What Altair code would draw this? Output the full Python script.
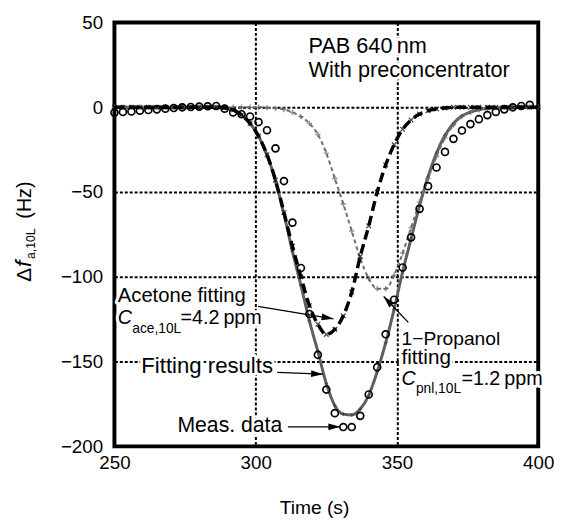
import math
import altair as alt
import pandas as pd

# ---------------- data ----------------
t_meas = [250, 253, 256, 259, 262, 265, 268, 271, 274, 277, 280, 283, 286,
          289, 292, 295, 298, 301, 304, 307, 310, 313, 316, 319, 322, 325,
          328, 331, 334, 337, 340, 343, 346, 349, 352, 355, 358, 361, 364,
          367, 370, 373, 376, 379, 382, 385, 388, 391, 394, 397]
meas = [-3.1, -2.7, -2.4, -2.0, -1.6, -1.2, -0.8, -0.4, 0.0, 0.2, 0.4, 0.6, 0.8,
        -0.8, -3.0, -4.1, -5.4, -8.7, -13.5, -24.2, -43.5, -68.0, -94.8, -121.9,
        -146.0, -166.5, -180.4, -188.6, -188.6, -182.0, -169.4, -153.3, -133.9,
        -113.5, -94.5, -76.7, -59.9, -46.5, -35.5, -26.3, -18.6, -13.7, -9.9,
        -7.0, -4.6, -2.7, -1.2, 0.0, 0.8, 1.5]

t_fit = [250, 253, 256, 259, 262, 265, 268, 271, 274, 277, 280, 283, 286,
         289, 292, 295, 298, 301, 304, 307, 310, 313, 316, 319, 322, 325,
         328, 331, 334, 337, 340, 343, 346, 349, 352, 355, 358, 361, 364,
         367, 370, 373, 376, 379, 382, 385, 388, 391, 394, 397, 400]
fit_total = [0, 0, 0, 0, 0, 0, 0, 0, 0, 0, 0, 0, 0,
             -0.3, -1.5, -4.5, -9.5, -17, -28, -43.5, -63, -85, -105, -126,
             -144, -163, -176, -181, -181.5, -178, -170, -156, -139, -119, -97,
             -77.5, -58, -41, -27, -16.5, -9.5, -5, -2.8, -1.4, -0.7, -0.3,
             0, 0, 0, 0, 0]
fit_acetone = [0, 0, 0, 0, 0, 0, 0, 0, 0, 0, 0, 0, 0,
               -0.3, -1.5, -4.5, -9.5, -17, -28, -43, -62, -82, -100, -117,
               -128, -134, -131, -123, -109, -88, -70, -50, -34, -22, -13,
               -7.5, -4, -2, -1, -0.4, 0, 0, 0, 0, 0, 0, 0, 0, 0, 0, 0]
fit_propanol = [0, 0, 0, 0, 0, 0, 0, 0, 0, 0, 0, 0, 0, 0, 0, 0, 0, 0,
                -0.2, -0.6, -1.3, -3, -5.5, -9.5, -16, -27, -42, -57, -73,
                -89, -101, -107, -107, -99, -86, -71, -56, -42, -29, -18,
                -10.5, -5.5, -3, -1.5, -0.7, -0.3, 0, 0, 0, 0, 0]

x_ticks = [250, 300, 350, 400]
y_ticks = [-200, -150, -100, -50, 0, 50]

# annotation texts (data coordinates)
txt_labels = ["PAB 640\u2009nm", "With preconcentrator", "Acetone fitting",
              "=4.2\u2009ppm", "Fitting results", "Meas. data",
              "1\u2212Propanol", "fitting", "=1.2\u2009ppm"]
txt_t = [318.7, 318.7, 251.2, 273.4, 259.5, 272.3, 351.6, 351.6, 372.8]
txt_v = [31.8, 17.9, -115.1, -128.1, -156.7, -191.5, -140.3, -151.3, -164.0]
txt_fs = [22, 22, 20.5, 20, 22.5, 21.5, 19.5, 21, 20]

ital_labels = ["C", "C"]
ital_t = [251.2, 351.6]
ital_v = [-128.1, -164.0]

sub_labels = ["ace,10L", "pnl,10L"]
sub_t = [256.3, 356.7]
sub_v = [-132.9, -168.8]

arrow_t1 = [300.8, 307.6, 311.4, 354.0]
arrow_v1 = [-117.4, -156.3, -188.5, -126.9]
arrow_t2 = [327.5, 323.8, 329.9, 345.3]
arrow_v2 = [-124.8, -157.4, -188.5, -111.6]

# ---------------- chart ----------------
FONT = "Liberation Sans"
W, H = 430, 430
XD, YD = [250, 400], [-200, 50]
kx = W / (XD[1] - XD[0])
ky = H / (YD[1] - YD[0])

xaxis = alt.Axis(values=x_ticks, grid=True, gridDash=[3, 2], gridColor="black",
                 gridWidth=2, gridOpacity=1, domain=False, ticks=False,
                 labelFont=FONT, labelFontSize=19, labelColor="black",
                 labelPadding=7, labelFlush=False, title=None)
yaxis = alt.Axis(values=y_ticks, grid=True, gridDash=[3, 2], gridColor="black",
                 gridWidth=2, gridOpacity=1, domain=False, ticks=False,
                 labelFont=FONT, labelFontSize=19, labelColor="black",
                 labelPadding=12, labelFlush=False, title=None)
X = alt.X("t:Q", scale=alt.Scale(domain=XD, nice=False, zero=False), axis=xaxis)
Y = alt.Y("v:Q", scale=alt.Scale(domain=YD, nice=False, zero=False), axis=yaxis)

df_meas = pd.DataFrame({"t": t_meas, "v": meas})
df_tot = pd.DataFrame({"t": t_fit, "v": fit_total})
df_ace = pd.DataFrame({"t": t_fit, "v": fit_acetone})
df_pnl = pd.DataFrame({"t": t_fit, "v": fit_propanol})
df_txt = pd.DataFrame({"t": txt_t, "v": txt_v, "label": txt_labels, "fs": txt_fs})
df_ital = pd.DataFrame({"t": ital_t, "v": ital_v, "label": ital_labels})
df_sub = pd.DataFrame({"t": sub_t, "v": sub_v, "label": sub_labels})
angs = [math.degrees(math.atan2(-(b2 - b1) * ky, (a2 - a1) * kx)) % 360
        for a1, b1, a2, b2 in zip(arrow_t1, arrow_v1, arrow_t2, arrow_v2)]
df_arr = pd.DataFrame({"t": arrow_t1, "v": arrow_v1, "t2": arrow_t2,
                       "v2": arrow_v2, "ang": angs})
df_head = pd.DataFrame({"t": arrow_t2, "v": arrow_v2, "ang": angs})
one = pd.DataFrame({"a": [0]})

PLUS = "M-1,0L1,0M0,-1L0,1"
CROSS = "M-1,-1L1,1M-1,1L1,-1"
HEAD = "M0,0L-4,-1.15L-4,1.15Z"

l_tot = alt.Chart(df_tot).mark_line(color="#5f5f5f", strokeWidth=3,
                                    interpolate="monotone").encode(x=X, y=Y)
l_tot_m = alt.Chart(df_tot).mark_point(shape=PLUS, size=14, color="#3a3a3a",
                                       strokeWidth=1.2, filled=False).encode(x=X, y=Y)
l_pnl = alt.Chart(df_pnl).mark_line(color="#6e6e6e", strokeWidth=2,
                                    strokeDash=[4, 3], interpolate="monotone").encode(x=X, y=Y)
l_pnl_m = alt.Chart(df_pnl).mark_point(shape=PLUS, size=30, color="#666666",
                                       strokeWidth=1.4, filled=False).encode(x=X, y=Y)
l_ace = alt.Chart(df_ace).mark_line(color="black", strokeWidth=3.5,
                                    strokeDash=[10, 5], interpolate="monotone").encode(x=X, y=Y)
l_ace_m = alt.Chart(df_ace).mark_point(shape=CROSS, size=22, color="black",
                                       strokeWidth=1.3, filled=False).encode(x=X, y=Y)
pts = alt.Chart(df_meas).mark_point(shape="circle", size=50, color="black",
                                    strokeWidth=1.7, filled=False, opacity=1).encode(x=X, y=Y)

arr_lines = alt.Chart(df_arr).mark_rule(color="black", strokeWidth=1.3).encode(
    x=X, y=Y, x2=alt.X2("t2"), y2=alt.Y2("v2"))
arr_heads = alt.Chart(df_head).mark_point(shape=HEAD, size=36, filled=True,
                                          color="black", opacity=1).encode(
    x=X, y=Y, angle=alt.Angle("ang:Q", scale=None))

txt_kw = dict(align="left", baseline="alphabetic", font=FONT)
halo_kw = dict(stroke="white", strokeWidth=6, strokeJoin="round", fill="white")

t_halo = alt.Chart(df_txt).mark_text(**txt_kw, **halo_kw).encode(
    x=X, y=Y, text="label:N", size=alt.Size("fs:Q", scale=None, legend=None))
t_main = alt.Chart(df_txt).mark_text(**txt_kw, color="black").encode(
    x=X, y=Y, text="label:N", size=alt.Size("fs:Q", scale=None, legend=None))
i_halo = alt.Chart(df_ital).mark_text(**txt_kw, **halo_kw, fontSize=20,
                                      fontStyle="italic").encode(x=X, y=Y, text="label:N")
i_main = alt.Chart(df_ital).mark_text(**txt_kw, color="black", fontSize=20,
                                      fontStyle="italic").encode(x=X, y=Y, text="label:N")
s_halo = alt.Chart(df_sub).mark_text(**txt_kw, **halo_kw, fontSize=14).encode(
    x=X, y=Y, text="label:N")
s_main = alt.Chart(df_sub).mark_text(**txt_kw, color="black", fontSize=14).encode(
    x=X, y=Y, text="label:N")

# axis titles (pixel positions relative to the plot area)
yt1 = alt.Chart(one).mark_text(text="\u0394", angle=270, align="left",
                               baseline="alphabetic", font=FONT, fontSize=21,
                               color="black").encode(x=alt.value(-84.3), y=alt.value(263))
yt2 = alt.Chart(one).mark_text(text="f", angle=270, align="left",
                               baseline="alphabetic", font=FONT, fontSize=23,
                               fontStyle="italic", color="black").encode(
    x=alt.value(-84.3), y=alt.value(248))
yt3 = alt.Chart(one).mark_text(text="a,10L", angle=270, align="left",
                               baseline="alphabetic", font=FONT, fontSize=12.5,
                               color="black").encode(x=alt.value(-80.3), y=alt.value(240))
yt4 = alt.Chart(one).mark_text(text="(Hz)", angle=270, align="left",
                               baseline="alphabetic", font=FONT, fontSize=20,
                               color="black").encode(x=alt.value(-84.3), y=alt.value(199))
xt = alt.Chart(one).mark_text(text="Time (s)", align="center", baseline="alphabetic",
                              font=FONT, fontSize=19.5, color="black").encode(
    x=alt.value(203), y=alt.value(498.6))

chart = alt.layer(
    l_tot, l_tot_m, l_pnl, l_pnl_m, l_ace, l_ace_m, pts,
    arr_lines, arr_heads,
    t_halo, i_halo, s_halo, t_main, i_main, s_main,
    yt1, yt2, yt3, yt4, xt,
).properties(
    width=W, height=H,
    autosize=alt.AutoSizeParams(type="none"),
    padding={"left": 108, "top": 11, "right": 16, "bottom": 74},
    background="white",
).configure_view(stroke="black", strokeWidth=4)

chart.save("out.html", embed_options={"renderer": "svg", "actions": False})
